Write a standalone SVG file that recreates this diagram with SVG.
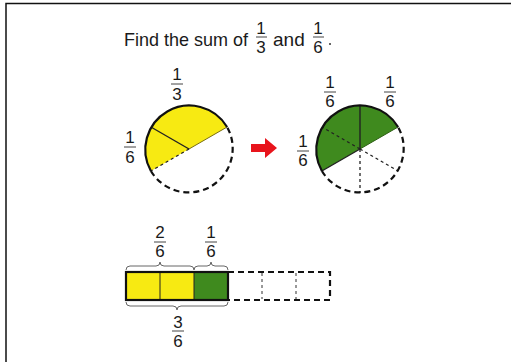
<svg xmlns="http://www.w3.org/2000/svg" width="511" height="362" viewBox="0 0 511 362">
<style>
text{font-family:"Liberation Sans","Arial",sans-serif;fill:#1a1a1a;}
.fr{font-size:17px;text-anchor:middle;}
.bar{stroke:#444;stroke-width:1;}
.arc{fill:none;stroke:#111;stroke-width:2.2;}
.darc{fill:none;stroke:#111;stroke-width:2.2;stroke-dasharray:6,4;}
.sl{stroke:#222;stroke-width:1.4;}
.dl{stroke:#222;stroke-width:1.3;stroke-dasharray:3,3;}
.brace{fill:none;stroke:#666;stroke-width:1;}
.y{fill:#f7ea12;}
.g{fill:#3f8a1e;}
</style>
<rect width="511" height="362" fill="#fff"/>
<path d="M6,362 V3.5 H511" fill="none" stroke="#111" stroke-width="1.5"/>

<g id="title">
<text x="124" y="46" font-size="19" textLength="124" lengthAdjust="spacingAndGlyphs">Find the sum of</text>
<text class="fr" x="261" y="34">1</text>
<line class="bar" x1="256" y1="37" x2="267" y2="37"/>
<text class="fr" x="261" y="53">3</text>
<text x="273" y="46" font-size="19">and</text>
<text class="fr" x="318" y="34">1</text>
<line class="bar" x1="313" y1="37" x2="324" y2="37"/>
<text class="fr" x="318" y="53">6</text>
<circle cx="330" cy="44" r="1" fill="#333"/>
</g>

<g id="circle-left">
<path class="y" d="M189,149 L227.1,127 A44,44 0 0 0 150.9,171 Z"/>
<line x1="189" y1="149" x2="227.1" y2="127" stroke="#7a6e10" stroke-width="1"/>
<line class="sl" x1="189" y1="149" x2="150.9" y2="127"/>
<line class="dl" x1="189" y1="149" x2="150.9" y2="171"/>
<path class="arc" d="M227.1,127 A44,44 0 0 0 150.9,171"/>
<path class="darc" d="M150.9,171 A44,44 0 0 0 227.1,127"/>
<text class="fr" x="177" y="80">1</text>
<line class="bar" x1="171" y1="84" x2="183" y2="84"/>
<text class="fr" x="177" y="100">3</text>
<text class="fr" x="130" y="143">1</text>
<line class="bar" x1="124" y1="147" x2="136" y2="147"/>
<text class="fr" x="130" y="163">6</text>
</g>

<g id="arrow">
<path d="M251,144 H265 V138 L277,148 L265,158 V152 H251 Z" fill="#e8141c"/>
</g>

<g id="circle-right">
<path class="g" d="M360,149 L398.1,127 A44,44 0 0 0 321.9,171 Z"/>
<line x1="360" y1="149" x2="398.1" y2="127" stroke="#2d5f14" stroke-width="1"/>
<line class="sl" x1="360" y1="149" x2="360" y2="105"/>
<line class="dl" x1="360" y1="149" x2="321.9" y2="127"/>
<line class="sl" x1="360" y1="149" x2="321.9" y2="171"/>
<line class="dl" x1="360" y1="149" x2="360" y2="193" stroke-width="1"/>
<line class="dl" x1="360" y1="149" x2="398.1" y2="171" stroke-width="1"/>
<path class="arc" d="M398.1,127 A44,44 0 0 0 321.9,171"/>
<path class="darc" d="M321.9,171 A44,44 0 0 0 398.1,127"/>
<text class="fr" x="330" y="88">1</text>
<line class="bar" x1="324" y1="92" x2="336" y2="92"/>
<text class="fr" x="330" y="107">6</text>
<text class="fr" x="390" y="88">1</text>
<line class="bar" x1="384" y1="92" x2="396" y2="92"/>
<text class="fr" x="390" y="107">6</text>
<text class="fr" x="303" y="147">1</text>
<line class="bar" x1="297" y1="151" x2="309" y2="151"/>
<text class="fr" x="303" y="166">6</text>
</g>

<g id="bar-model">
<rect class="y" x="126" y="272" width="34" height="28"/>
<rect class="y" x="160" y="272" width="34" height="28"/>
<rect class="g" x="194" y="272" width="34" height="28"/>
<line x1="160" y1="272" x2="160" y2="300" stroke="#222" stroke-width="1"/>
<line x1="194" y1="272" x2="194" y2="300" stroke="#222" stroke-width="1"/>
<line x1="228" y1="272" x2="228" y2="300" stroke="#222" stroke-width="1"/>
<rect x="126" y="272" width="102" height="28" fill="none" stroke="#111" stroke-width="2.2"/>
<path d="M228,272 H330 V300 H228" fill="none" stroke="#111" stroke-width="2.2" stroke-dasharray="6,4"/>
<line x1="262" y1="273" x2="262" y2="299" stroke="#333" stroke-width="1" stroke-dasharray="3,3"/>
<line x1="296" y1="273" x2="296" y2="299" stroke="#333" stroke-width="1" stroke-dasharray="3,3"/>
</g>

<g id="braces">
<path class="brace" d="M126,270 Q126,266 130,266 H156 Q160,266 160,262 Q160,266 164,266 H190 Q194,266 194,270"/>
<path class="brace" d="M194,270 Q194,266 198,266 H207 Q211,266 211,262 Q211,266 215,266 H224 Q228,266 228,270"/>
<path class="brace" d="M126,302 Q126,306 130,306 H173 Q177,306 177,310 Q177,306 181,306 H224 Q228,306 228,302"/>
</g>

<g id="bar-labels">
<text class="fr" x="160" y="238">2</text>
<line class="bar" x1="154" y1="242" x2="166" y2="242"/>
<text class="fr" x="160" y="257">6</text>
<text class="fr" x="211" y="238">1</text>
<line class="bar" x1="205" y1="242" x2="217" y2="242"/>
<text class="fr" x="211" y="257">6</text>
<text class="fr" x="178" y="328">3</text>
<line class="bar" x1="172" y1="331" x2="184" y2="331"/>
<text class="fr" x="178" y="347">6</text>
</g>
</svg>
